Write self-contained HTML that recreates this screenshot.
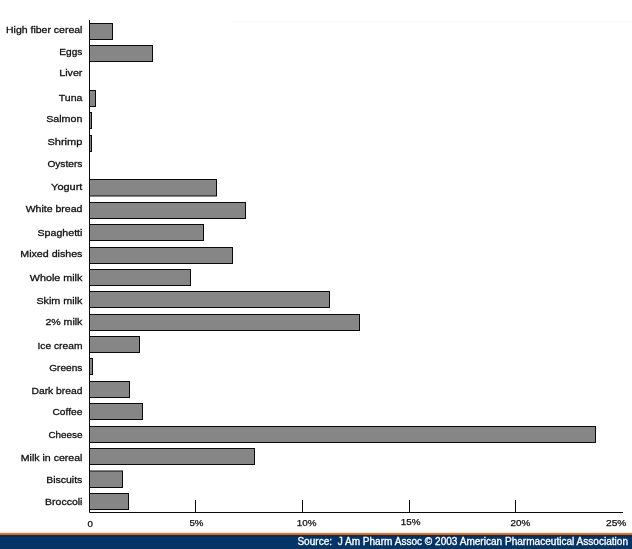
<!DOCTYPE html>
<html><head><meta charset="utf-8"><title>Chart</title>
<style>
html,body{margin:0;padding:0;background:#fff;}
body{width:632px;height:549px;overflow:hidden;position:relative;font-family:"Liberation Sans",sans-serif;}
svg{position:absolute;left:0;top:0;}
text{font-family:"Liberation Sans",sans-serif;fill:#111;}
.lb{font-size:9.7px;stroke:#111;stroke-width:0.3px;}
.tk{font-size:8.4px;stroke:#111;stroke-width:0.25px;}
.src{font-size:10px;fill:#fff;white-space:pre;stroke:#fff;stroke-width:0.3px;}
</style></head><body>
<svg width="632" height="549" viewBox="0 0 632 549">
<rect x="0" y="0" width="632" height="549" fill="#fff"/>
<rect x="232" y="21.5" width="400" height="1.5" fill="#fafafa"/>

<rect x="89.5" y="23.50" width="23.0" height="16" fill="#868686" stroke="#0a0a0a" stroke-width="1"/>
<text class="lb" x="6.0" y="32.9" textLength="76.4" lengthAdjust="spacingAndGlyphs">High fiber cereal</text>
<rect x="89.5" y="45.50" width="63.0" height="16" fill="#868686" stroke="#0a0a0a" stroke-width="1"/>
<text class="lb" x="59.3" y="54.6" textLength="23.1" lengthAdjust="spacingAndGlyphs">Eggs</text>
<text class="lb" x="59.3" y="76.4" textLength="23.1" lengthAdjust="spacingAndGlyphs">Liver</text>
<rect x="89.5" y="90.50" width="6.0" height="16" fill="#868686" stroke="#0a0a0a" stroke-width="1"/>
<text class="lb" x="58.8" y="100.9" textLength="23.6" lengthAdjust="spacingAndGlyphs">Tuna</text>
<rect x="89.5" y="112.50" width="2.0" height="16" fill="#868686" stroke="#0a0a0a" stroke-width="1"/>
<text class="lb" x="46.2" y="121.9" textLength="36.2" lengthAdjust="spacingAndGlyphs">Salmon</text>
<rect x="89.5" y="135.50" width="2.0" height="16" fill="#868686" stroke="#0a0a0a" stroke-width="1"/>
<text class="lb" x="47.4" y="145.0" textLength="35.0" lengthAdjust="spacingAndGlyphs">Shrimp</text>
<text class="lb" x="47.4" y="166.6" textLength="35.0" lengthAdjust="spacingAndGlyphs">Oysters</text>
<rect x="89.5" y="179.50" width="127.0" height="16.5" fill="#868686" stroke="#0a0a0a" stroke-width="1"/>
<text class="lb" x="51.1" y="190.1" textLength="31.3" lengthAdjust="spacingAndGlyphs">Yogurt</text>
<rect x="89.5" y="202.50" width="156.0" height="16" fill="#868686" stroke="#0a0a0a" stroke-width="1"/>
<text class="lb" x="25.7" y="211.9" textLength="56.7" lengthAdjust="spacingAndGlyphs">White bread</text>
<rect x="89.5" y="224.50" width="114.0" height="16" fill="#868686" stroke="#0a0a0a" stroke-width="1"/>
<text class="lb" x="37.5" y="235.5" textLength="44.9" lengthAdjust="spacingAndGlyphs">Spaghetti</text>
<rect x="89.5" y="247.50" width="143.0" height="16" fill="#868686" stroke="#0a0a0a" stroke-width="1"/>
<text class="lb" x="20.3" y="256.6" textLength="62.1" lengthAdjust="spacingAndGlyphs">Mixed dishes</text>
<rect x="89.5" y="269.50" width="101.0" height="16" fill="#868686" stroke="#0a0a0a" stroke-width="1"/>
<text class="lb" x="29.8" y="280.7" textLength="52.6" lengthAdjust="spacingAndGlyphs">Whole milk</text>
<rect x="89.5" y="291.50" width="240.0" height="16" fill="#868686" stroke="#0a0a0a" stroke-width="1"/>
<text class="lb" x="36.4" y="303.9" textLength="46.0" lengthAdjust="spacingAndGlyphs">Skim milk</text>
<rect x="89.5" y="314.50" width="270.0" height="16" fill="#868686" stroke="#0a0a0a" stroke-width="1"/>
<text class="lb" x="45.4" y="324.9" textLength="37.0" lengthAdjust="spacingAndGlyphs">2% milk</text>
<rect x="89.5" y="336.50" width="50.0" height="16" fill="#868686" stroke="#0a0a0a" stroke-width="1"/>
<text class="lb" x="37.5" y="348.6" textLength="44.9" lengthAdjust="spacingAndGlyphs">Ice cream</text>
<rect x="89.5" y="358.50" width="3.0" height="16" fill="#868686" stroke="#0a0a0a" stroke-width="1"/>
<text class="lb" x="49.2" y="371.1" textLength="33.2" lengthAdjust="spacingAndGlyphs">Greens</text>
<rect x="89.5" y="381.50" width="40.0" height="16" fill="#868686" stroke="#0a0a0a" stroke-width="1"/>
<text class="lb" x="31.5" y="393.9" textLength="50.9" lengthAdjust="spacingAndGlyphs">Dark bread</text>
<rect x="89.5" y="403.50" width="53.0" height="16" fill="#868686" stroke="#0a0a0a" stroke-width="1"/>
<text class="lb" x="52.5" y="414.9" textLength="29.9" lengthAdjust="spacingAndGlyphs">Coffee</text>
<rect x="89.5" y="426.50" width="506.0" height="16" fill="#868686" stroke="#0a0a0a" stroke-width="1"/>
<text class="lb" x="48.4" y="437.5" textLength="34.0" lengthAdjust="spacingAndGlyphs">Cheese</text>
<rect x="89.5" y="448.50" width="165.0" height="16" fill="#868686" stroke="#0a0a0a" stroke-width="1"/>
<text class="lb" x="20.8" y="460.8" textLength="61.6" lengthAdjust="spacingAndGlyphs">Milk in cereal</text>
<rect x="89.5" y="471.00" width="33.0" height="16.5" fill="#868686" stroke="#0a0a0a" stroke-width="1"/>
<text class="lb" x="46.2" y="482.6" textLength="36.2" lengthAdjust="spacingAndGlyphs">Biscuits</text>
<rect x="89.5" y="493.50" width="39.0" height="16" fill="#868686" stroke="#0a0a0a" stroke-width="1"/>
<text class="lb" x="45.1" y="504.8" textLength="37.3" lengthAdjust="spacingAndGlyphs">Broccoli</text>
<path d="M89.5 20 V512.5 H623" fill="none" stroke="#0a0a0a" stroke-width="1"/>
<path d="M195.5 500 V512.5" stroke="#0a0a0a" stroke-width="1"/>
<path d="M302.5 500 V512.5" stroke="#0a0a0a" stroke-width="1"/>
<path d="M409.5 500 V512.5" stroke="#0a0a0a" stroke-width="1"/>
<path d="M515.5 500 V512.5" stroke="#0a0a0a" stroke-width="1"/>
<text class="tk" x="87.5" y="527.0" textLength="5.4" lengthAdjust="spacingAndGlyphs">0</text>
<text class="tk" x="189.4" y="525.9" textLength="14.0" lengthAdjust="spacingAndGlyphs">5%</text>
<text class="tk" x="296.8" y="525.9" textLength="19.7" lengthAdjust="spacingAndGlyphs">10%</text>
<text class="tk" x="400.8" y="524.7" textLength="19.7" lengthAdjust="spacingAndGlyphs">15%</text>
<text class="tk" x="510.6" y="525.9" textLength="19.8" lengthAdjust="spacingAndGlyphs">20%</text>
<text class="tk" x="606.0" y="525.9" textLength="20.4" lengthAdjust="spacingAndGlyphs">25%</text>
<defs><linearGradient id="bg" x1="0" y1="0" x2="0" y2="1"><stop offset="0" stop-color="#01356e"/><stop offset="1" stop-color="#063462"/></linearGradient></defs>
<rect x="0" y="531" width="632" height="1" fill="#fffbf5"/>
<rect x="0" y="532" width="632" height="1" fill="#f6e5d2"/>
<rect x="0" y="533" width="632" height="1" fill="#c08050"/>
<rect x="0" y="534" width="632" height="1" fill="#b5713f"/>
<rect x="0" y="535" width="632" height="1" fill="#3b2218"/>
<rect x="0" y="536" width="632" height="1" fill="#12294d"/>
<rect x="0" y="537" width="632" height="12" fill="url(#bg)"/>
<text class="src" x="297.4" y="545.1" textLength="330.6" lengthAdjust="spacingAndGlyphs">Source:  J Am Pharm Assoc © 2003 American Pharmaceutical Association</text>
</svg></body></html>
